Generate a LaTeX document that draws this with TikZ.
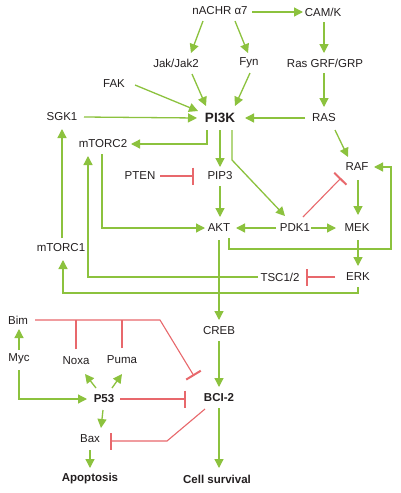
\documentclass[tikz,border=0pt]{standalone}
\usepackage{fontspec}
\setmainfont{Liberation Sans}
\usetikzlibrary{arrows.meta,calc}
\definecolor{gline}{RGB}{140,194,62}
\definecolor{rline}{RGB}{232,104,108}
\definecolor{txt}{RGB}{35,31,32}
\begin{document}
\begin{tikzpicture}[x=1pt,y=-1pt,
  lbl/.style={inner sep=0pt,text=txt,font=\fontsize{11.5}{13}\selectfont},
  blbl/.style={inner sep=0pt,text=txt,font=\fontsize{11.5}{13}\selectfont\bfseries},
  big/.style={inner sep=0pt,text=txt,font=\fontsize{13.5}{15}\selectfont\bfseries},
  g/.style={draw=gline,line width=1.3pt,-{Triangle[length=9pt,width=9pt]}},
  gl/.style={draw=gline,line width=1.3pt},
  r/.style={draw=rline,line width=1.1pt,-{Bar[width=17pt,line width=2pt]}},
  rl/.style={draw=rline,line width=1.1pt}]
\useasboundingbox[fill=white] (0,0) rectangle (400,493);
% nodes
\node[lbl] (nachr) at (220,11) {nACHR α7};
\node[lbl] (camk) at (323,12) {CAM/K};
\node[lbl] (jak) at (176,63) {Jak/Jak2};
\node[lbl] (fyn) at (249,63) {Fyn};
\node[lbl] (rasgrf) at (325,63) {Ras GRF/GRP};
\node[lbl] (fak) at (114,84) {FAK};
\node[lbl] (sgk) at (62,117) {SGK1};
\node[big] (pi3k) at (220,118) {PI3K};
\node[lbl] (ras) at (324,118) {RAS};
\node[lbl] (mtorc2) at (103,144) {mTORC2};
\node[lbl] (raf) at (357,167) {RAF};
\node[lbl] (pten) at (140,176) {PTEN};
\node[lbl] (pip3) at (220,176) {PIP3};
\node[lbl] (akt) at (219,228) {AKT};
\node[lbl] (pdk) at (295,228) {PDK1};
\node[lbl] (mek) at (357,228) {MEK};
\node[lbl] (mtorc1) at (61,248) {mTORC1};
\node[lbl] (tsc) at (280,277) {TSC1/2};
\node[lbl] (erk) at (358,277) {ERK};
\node[lbl] (bim) at (18,320) {Bim};
\node[lbl] (creb) at (219,331) {CREB};
\node[lbl] (myc) at (19,359) {Myc};
\node[lbl] (noxa) at (76,361) {Noxa};
\node[lbl] (puma) at (122,360) {Puma};
\node[blbl] (p53) at (104,399) {P53};
\node[blbl] (bcl) at (219,398) {BCI-2};
\node[lbl] (bax) at (90,439) {Bax};
\node[blbl] (apo) at (90,479) {Apoptosis};
\node[blbl] (surv) at (217,479) {Cell survival};
% green connectors
\draw[g] ($(nachr)+(-17,10)$) -- ($(jak)+(15,-10)$);
\draw[g] ($(nachr)+(15,10)$) -- ($(fyn)+(-1,-10)$);
\draw[g] ($(nachr)+(32,1)$) -- ($(camk)+(-20,0)$);
\draw[g] ($(camk)+(1,10)$) -- ($(rasgrf)+(-1,-10)$);
\draw[g] ($(rasgrf)+(-1,10)$) -- ($(ras)+(0,-11)$);
\draw[g] ($(ras)+(-19,0)$) -- ($(pi3k)+(25,0)$);
\draw[g] ($(ras)+(11,12)$) -- ($(raf)+(-9,-10)$);
\draw[g] ($(jak)+(16,11)$) -- ($(pi3k)+(-14,-12)$);
\draw[g] ($(fyn)+(1,10)$) -- ($(pi3k)+(15,-12)$);
\draw[g] ($(fak)+(21,1)$) -- ($(pi3k)+(-22,-7)$);
\draw[g] ($(sgk)+(22,0)$) -- ($(pi3k)+(-23,0)$);
\draw[g] ($(pi3k)+(-13,12)$) |- ($(mtorc2)+(28,0)$);
\draw[g] ($(pi3k)+(0,12)$) -- ($(pip3)+(0,-9)$);
\draw[g] ($(pi3k)+(12,12)$) -- ($(pi3k)+(12,42)$) -- ($(pdk)+(-10,-12)$);
\draw[g] ($(pip3)+(0,10)$) -- ($(akt)+(1,-11)$);
\draw[g] ($(mtorc2)+(-1,10)$) |- ($(akt)+(-14,0)$);
\draw[g] ($(pdk)+(-19,0)$) -- ($(akt)+(17,0)$);
\draw[g] ($(pdk)+(16,0)$) -- ($(mek)+(-21,0)$);
\draw[g] ($(raf)+(1,13)$) -- ($(mek)+(1,-13)$);
\draw[g] ($(akt)+(10,10)$) |- ($(raf)+(34,82)$) |- ($(raf)+(17,0)$);
\draw[g] ($(mek)+(1,12)$) -- ($(erk)+(0,-11)$);
\draw[g] ($(tsc)+(-22,0)$) -| ($(mtorc2)+(-15,12)$);
\draw[g] ($(erk)+(0,10)$) |- ($(mtorc1)+(2,45)$) -- ($(mtorc1)+(2,12)$);
\draw[g] ($(mtorc1)+(1,-10)$) -- ($(sgk)+(0,12)$);
\draw[g] ($(akt)+(0,12)$) -- ($(creb)+(0,-11)$);
\draw[g] ($(creb)+(0,10)$) -- ($(bcl)+(0,-11)$);
\draw[g] ($(bcl)+(0,10)$) -- ($(surv)+(2,-11)$);
\draw[g] ($(myc)+(0,-9)$) -- ($(bim)+(1,9)$);
\draw[g] ($(myc)+(0,11)$) |- ($(p53)+(-17,0)$);
\draw[g] ($(p53)+(-8,-11)$) -- ($(noxa)+(9,13)$);
\draw[g] ($(p53)+(8,-11)$) -- ($(puma)+(0,14)$);
\draw[g] ($(p53)+(-1,11)$) -- ($(bax)+(11,-11)$);
\draw[g] ($(bax)+(0,11)$) -- ($(apo)+(0,-11)$);
% red connectors
\draw[r] ($(pten)+(20,0)$) -- ($(pip3)+(-26,0)$);
\draw[r] ($(pdk)+(8,-11)$) -- ($(raf)+(-16,11)$);
\draw[r] ($(erk)+(-23,0)$) -- ($(tsc)+(26,0)$);
\draw[r] ($(bim)+(17,0)$) -- ($(bim)+(142,0)$) -- ($(bcl)+(-25,-22)$);
\draw[rl] ($(noxa)+(0,-12)$) -- (noxa |- bim);
\draw[rl] ($(puma)+(0,-12)$) -- (puma |- bim);
\draw[r] ($(p53)+(16,0)$) -- ($(bcl)+(-33,1)$);
\draw[r] ($(bcl)+(-14,11)$) -- ($(bax)+(77,2)$) -- ($(bax)+(20,2)$);
\end{tikzpicture}
\end{document}
